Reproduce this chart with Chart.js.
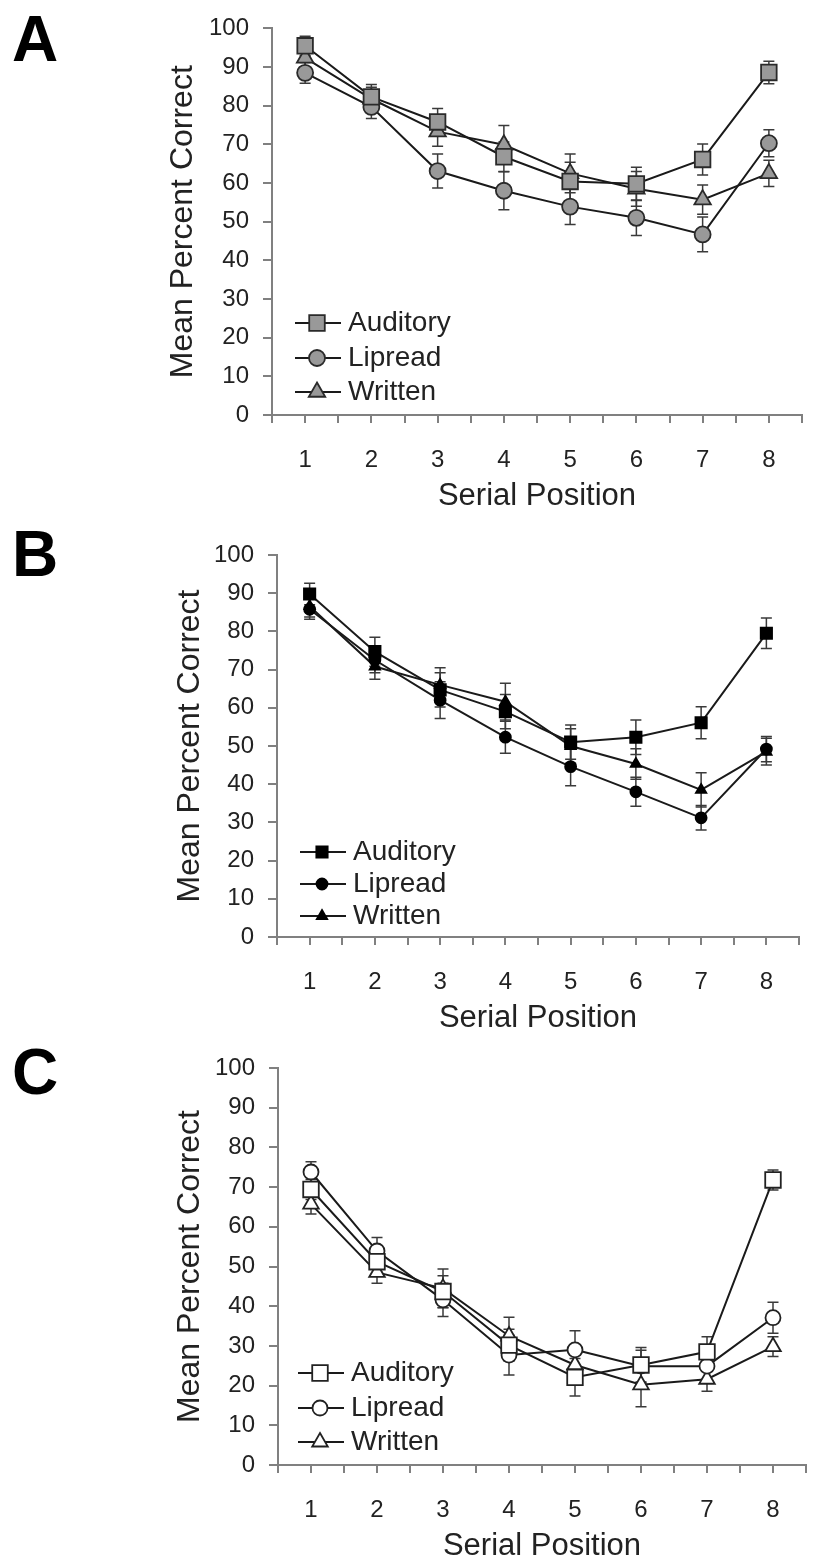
<!DOCTYPE html>
<html>
<head>
<meta charset="utf-8">
<script src="https://cdn.jsdelivr.net/npm/chart.js@4.4.0/dist/chart.umd.min.js"></script>
<style>
  body { margin: 0; background: #fff; width: 836px; height: 1562px; position: relative; overflow: hidden; }
  .panel { position: absolute; left: 0; width: 836px; }
  .letter { position: absolute; left: 12px; font-family: "Liberation Sans", Arial, sans-serif; font-weight: bold; font-size: 64px; line-height: 1; color: #000; }
</style>
</head>
<body>
<div class="letter" style="top:7px">A</div>
<div class="letter" style="top:522px">B</div>
<div class="letter" style="top:1040px">C</div>
<div class="panel" style="top:0"><canvas id="chartA" width="836" height="520"></canvas></div>
<div class="panel" style="top:520px"><canvas id="chartB" width="836" height="520"></canvas></div>
<div class="panel" style="top:1030px"><canvas id="chartC" width="836" height="532"></canvas></div>
<script>
const positions = [1, 2, 3, 4, 5, 6, 7, 8];
const seriesNames = ['Auditory', 'Lipread', 'Written'];

// Panel A
const aAuditory = [95.5, 82.3, 75.8, 66.8, 60.4, 59.8, 66.1, 88.6];
const aAuditoryErr = [2.5, 3.2, 3.5, 3.8, 5.0, 4.3, 4.0, 2.9];
const aLipread = [88.5, 79.7, 63.1, 58.0, 53.9, 51.0, 46.7, 70.3];
const aLipreadErr = [2.7, 3.0, 4.4, 4.9, 4.6, 4.6, 4.5, 3.5];
const aWritten = [92.4, 81.8, 73.3, 69.9, 62.5, 58.5, 55.7, 62.5];
const aWrittenErr = [2.5, 3.0, 3.8, 5.0, 5.0, 4.5, 3.8, 3.4];

// Panel B
const bAuditory = [89.8, 74.7, 64.7, 59.0, 51.0, 52.3, 56.1, 79.5];
const bAuditoryErr = [2.8, 3.8, 4.5, 4.5, 4.5, 4.5, 4.2, 4.0];
const bLipread = [85.8, 72.5, 62.0, 52.3, 44.6, 38.0, 31.2, 49.2];
const bLipreadErr = [2.6, 3.3, 4.8, 4.2, 5.0, 3.8, 3.2, 3.3];
const bWritten = [86.6, 70.8, 66.0, 61.6, 50.0, 45.3, 38.5, 48.5];
const bWrittenErr = [2.8, 3.3, 4.5, 4.8, 4.5, 4.0, 4.5, 3.5];

// Panel C
const cAuditory = [69.4, 51.2, 43.7, 30.2, 22.1, 25.2, 28.5, 71.8];
const cAuditoryErr = [2.5, 3.0, 4.0, 4.0, 4.7, 4.4, 3.8, 2.5];
const cLipread = [73.8, 53.9, 41.6, 27.7, 29.0, 24.9, 24.9, 37.1];
const cLipreadErr = [2.6, 3.4, 4.2, 5.0, 4.8, 4.0, 3.5, 3.9];
const cWritten = [65.7, 48.5, 44.5, 32.5, 25.2, 20.2, 21.6, 29.8];
const cWrittenErr = [2.5, 2.7, 4.9, 4.7, 4.5, 5.5, 3.0, 2.5];

const yTicks = [0, 10, 20, 30, 40, 50, 60, 70, 80, 90, 100];

Chart.defaults.font.family = '"Liberation Sans", Arial, sans-serif';
Chart.defaults.color = '#222';

// error bars drawn behind the lines/markers
const errorBars = {
  id: 'errorBars',
  beforeDatasetsDraw(chart) {
    const { ctx, scales: { x, y } } = chart;
    ctx.save();
    ctx.strokeStyle = '#3a3a3a';
    ctx.lineWidth = 1.5;
    chart.data.datasets.forEach((ds) => {
      ds.data.forEach((p, j) => {
        const e = ds.errors[j];
        const px = x.getPixelForValue(p.x);
        const top = y.getPixelForValue(p.y + e);
        const bot = y.getPixelForValue(p.y - e);
        ctx.beginPath();
        ctx.moveTo(px, top); ctx.lineTo(px, bot);
        ctx.moveTo(px - 5.5, top); ctx.lineTo(px + 5.5, top);
        ctx.moveTo(px - 5.5, bot); ctx.lineTo(px + 5.5, bot);
        ctx.stroke();
      });
    });
    ctx.restore();
  }
};

// legend with the line running through the marker
const lineLegend = {
  id: 'lineLegend',
  afterDraw(chart, args, opts) {
    const { ctx, chartArea } = chart;
    ctx.save();
    chart.data.datasets.forEach((ds, i) => {
      const y = chartArea.bottom - opts.rows[i];
      const x0 = chartArea.left + opts.left;
      ctx.strokeStyle = ds.borderColor;
      ctx.lineWidth = 2;
      ctx.beginPath();
      ctx.moveTo(x0, y); ctx.lineTo(x0 + 46, y);
      ctx.stroke();
      ctx.fillStyle = ds.pointBackgroundColor;
      ctx.strokeStyle = ds.pointBorderColor;
      ctx.lineWidth = ds.pointBorderWidth;
      Chart.helpers.drawPoint(ctx, {
        pointStyle: ds.pointStyle, radius: ds.pointRadius,
        borderWidth: ds.pointBorderWidth, rotation: 0
      }, x0 + 22, y);
      ctx.fillStyle = '#222';
      ctx.font = '28px "Liberation Sans", Arial, sans-serif';
      ctx.textBaseline = 'middle';
      ctx.fillText(ds.label, x0 + 53, y);
    });
    ctx.restore();
  }
};

function series(label, values, errors, style, radius, fill, border) {
  return {
    label: label,
    data: positions.map((p, i) => ({ x: p, y: values[i] })),
    errors: errors,
    borderColor: '#1a1a1a',
    borderWidth: 2,
    tension: 0,
    pointStyle: style,
    pointRadius: radius,
    pointBackgroundColor: fill,
    pointBorderColor: border,
    pointBorderWidth: 1.8
  };
}

function makePanel(id, datasets, g) {
  const ctx = document.getElementById(id).getContext('2d');
  return new Chart(ctx, {
    type: 'line',
    data: { datasets: datasets },
    options: {
      responsive: false,
      animation: false,
      layout: { padding: { left: 150, top: g.top, right: 836 - g.right, bottom: 0 } },
      plugins: {
        legend: { display: false },
        tooltip: { enabled: false },
        lineLegend: { left: g.legLeft, rows: g.rows }
      },
      scales: {
        x: {
          type: 'linear',
          min: 0.5,
          max: 8.5,
          afterFit: (s) => { s.height = g.height - g.bottom; },
          grid: { drawOnChartArea: false, tickLength: 8, color: '#808080', lineWidth: 2 },
          border: { color: '#808080', width: 2 },
          ticks: {
            stepSize: 0.5,
            padding: 23,
            font: { size: 24 },
            color: '#222',
            maxRotation: 0,
            autoSkip: false,
            callback: (v) => Number.isInteger(v) ? String(v) : ''
          },
          title: {
            display: true, text: 'Serial Position', color: '#222',
            font: { size: 31, lineHeight: 1 },
            padding: { top: 0, bottom: g.xTitlePad }
          }
        },
        y: {
          min: 0,
          max: 100,
          afterFit: (s) => { s.width = g.left - 150; },
          afterBuildTicks: (s) => { s.ticks = yTicks.map((v) => ({ value: v })); },
          grid: { drawOnChartArea: false, tickLength: 9, color: '#808080', lineWidth: 2 },
          border: { color: '#808080', width: 2 },
          ticks: { padding: 14, font: { size: 24 }, color: '#222' },
          title: {
            display: true, text: 'Mean Percent Correct', color: '#222',
            font: { size: 32, lineHeight: 1 },
            padding: { top: g.yTitlePad, bottom: 0 }
          }
        }
      }
    },
    plugins: [errorBars, lineLegend]
  });
}

makePanel('chartA', [
  series(seriesNames[0], aAuditory, aAuditoryErr, 'rect', 11, '#999999', '#2a2a2a'),
  series(seriesNames[1], aLipread, aLipreadErr, 'circle', 8, '#999999', '#2a2a2a'),
  series(seriesNames[2], aWritten, aWrittenErr, 'triangle', 9.5, '#999999', '#2a2a2a')
], { height: 520, top: 17.5, bottom: 415, left: 272, right: 802, xTitlePad: 8.5, yTitlePad: 17, legLeft: 23, rows: [92, 57, 23] });

makePanel('chartB', [
  series(seriesNames[0], bAuditory, bAuditoryErr, 'rect', 8, '#000000', '#000000'),
  series(seriesNames[1], bLipread, bLipreadErr, 'circle', 5.5, '#000000', '#000000'),
  series(seriesNames[2], bWritten, bWrittenErr, 'triangle', 6, '#000000', '#000000')
], { height: 520, top: 35, bottom: 417, left: 277, right: 799, xTitlePad: 6.5, yTitlePad: 24, legLeft: 23, rows: [85, 53, 21] });

makePanel('chartC', [
  series(seriesNames[0], cAuditory, cAuditoryErr, 'rect', 11, '#ffffff', '#222222'),
  series(seriesNames[1], cLipread, cLipreadErr, 'circle', 7.5, '#ffffff', '#222222'),
  series(seriesNames[2], cWritten, cWrittenErr, 'triangle', 9, '#ffffff', '#222222')
], { height: 532, top: 38, bottom: 435, left: 278, right: 806, xTitlePad: 0.5, yTitlePad: 24, legLeft: 20, rows: [92, 57, 23] });
</script>
</body>
</html>
